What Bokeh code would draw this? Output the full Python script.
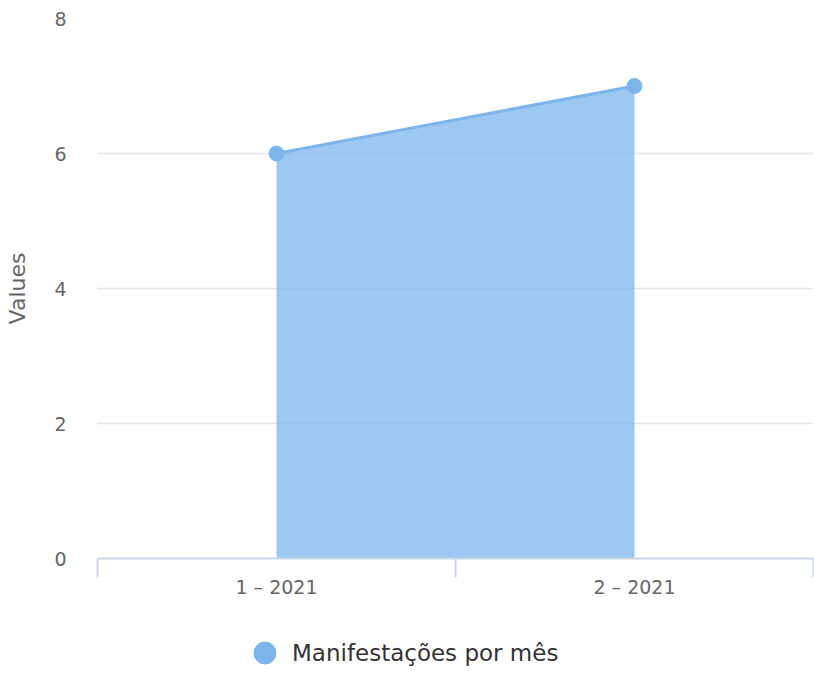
from bokeh.plotting import figure
from bokeh.layouts import column
from bokeh.models import (ColumnDataSource, FixedTicker, Range1d, Legend, LegendItem)
from bokeh.embed import file_html
from bokeh.resources import INLINE

categories = ["1 – 2021", "2 – 2021"]
values = [6, 7]
y_ticks = [0, 2, 4, 6, 8]
series_name = "Manifestações por mês"

FONT = "DejaVu Sans"
COLOR = "#7cb5ec"

x_pos = [i + 0.5 for i in range(len(categories))]
src = ColumnDataSource(data=dict(x=x_pos, y=values, y0=[0] * len(values)))

p = figure(width=814, height=600, output_backend="svg", toolbar_location=None,
           x_range=Range1d(0, len(categories)), y_range=Range1d(0, 8),
           min_border_left=97, min_border_right=1, min_border_top=18, min_border_bottom=42)
p.outline_line_color = None
p.background_fill_color = "white"

p.varea(x="x", y1="y0", y2="y", source=src, fill_color=COLOR, fill_alpha=0.75)
p.line(x="x", y="y", source=src, line_color=COLOR, line_width=3)
p.scatter(x="x", y="y", source=src, size=15, fill_color=COLOR, line_color=COLOR)

# x axis
xa = p.xaxis[0]
xa.ticker = FixedTicker(ticks=x_pos, minor_ticks=list(range(len(categories) + 1)))
xa.major_label_overrides = {x: c for x, c in zip(x_pos, categories)}
xa.major_tick_line_color = None
xa.major_tick_out = 0
xa.minor_tick_line_color = "#ccd6eb"
xa.minor_tick_line_width = 2
xa.minor_tick_out = 19
xa.minor_tick_in = 0
xa.axis_line_color = "#ccd6eb"
xa.axis_line_width = 2
xa.major_label_text_font = FONT
xa.major_label_text_font_size = "19px"
xa.major_label_text_color = "#666666"
xa.major_label_standoff = -2
p.xgrid.grid_line_color = None

# y axis
ya = p.yaxis[0]
ya.ticker = FixedTicker(ticks=y_ticks)
ya.axis_line_color = None
ya.major_tick_line_color = None
ya.minor_tick_line_color = None
ya.major_tick_out = 0
ya.major_label_text_font = FONT
ya.major_label_text_font_size = "19px"
ya.major_label_text_color = "#666666"
ya.major_label_standoff = 31
ya.axis_label = "Values"
ya.axis_label_text_font = FONT
ya.axis_label_text_font_size = "22px"
ya.axis_label_text_font_style = "normal"
ya.axis_label_text_color = "#666666"
ya.axis_label_standoff = 21
p.ygrid.grid_line_color = "#e6e6e6"
p.ygrid.grid_line_width = 1.5

# legend strip below the chart (its frame is aligned with the chart's frame)
lg = figure(width=814, height=73, output_backend="svg", toolbar_location=None,
            x_range=Range1d(0, 1), y_range=Range1d(0, 1),
            x_axis_location=None, y_axis_location=None,
            min_border_left=0, min_border_right=0, min_border_top=0, min_border_bottom=0)
lg.outline_line_color = None
lg.xgrid.grid_line_color = None
lg.ygrid.grid_line_color = None
leg_src = ColumnDataSource(data=dict(x=[float("nan")], y=[float("nan")]))
leg_r = lg.scatter(x="x", y="y", source=leg_src, size=22, fill_color=COLOR, line_color=COLOR)

legend = Legend(items=[LegendItem(label=series_name, renderers=[leg_r])],
                orientation="horizontal", location=(140, -7),
                label_text_font=FONT, label_text_font_size="23px",
                label_text_color="#333333", border_line_color=None,
                background_fill_alpha=0,
                glyph_width=55, glyph_height=55, margin=0, padding=0,
                label_standoff=0)
lg.add_layout(legend, "center")

layout = column(p, lg, spacing=0)
open("out.html", "w").write(file_html(layout, INLINE))
